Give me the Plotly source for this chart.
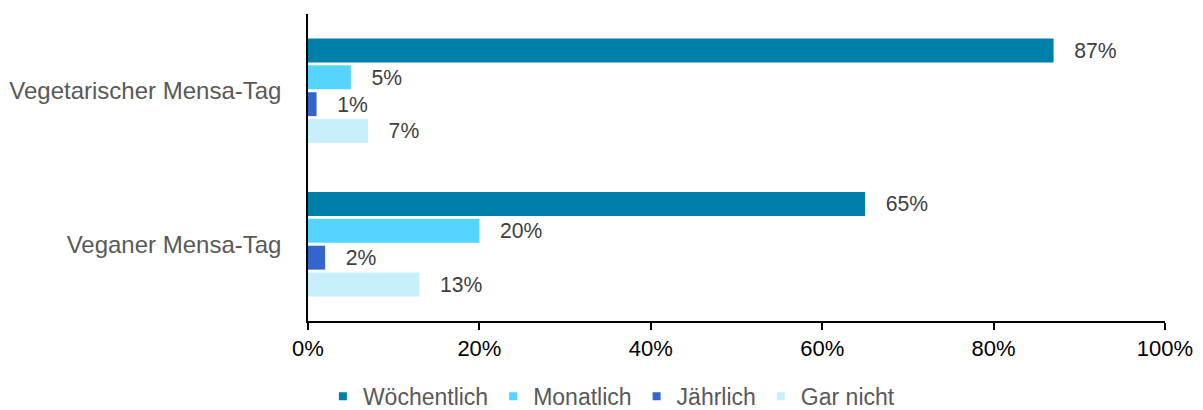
import plotly.graph_objects as go

categories = ["Vegetarischer Mensa-Tag", "Veganer Mensa-Tag"]
series_names = ["Wöchentlich", "Monatlich", "Jährlich", "Gar nicht"]
woechentlich = [87, 65]
monatlich = [5, 20]
jaehrlich = [1, 2]
gar_nicht = [7, 13]
values = [woechentlich, monatlich, jaehrlich, gar_nicht]
colors = ["#0080A8", "#55D4FF", "#3366CC", "#C8F0FC"]
x_ticks = [0, 20, 40, 60, 80, 100]

FONT = "Liberation Sans, Arial"

fig = go.Figure()
for name, vals, col in zip(series_names, values, colors):
    fig.add_trace(go.Bar(
        name=name, y=categories, x=vals, orientation="h",
        marker=dict(color=col, line=dict(width=0)),
        text=[f"   {v}%" for v in vals], textposition="outside",
        textfont=dict(family=FONT, size=23, color="#404040"),
        cliponaxis=False, showlegend=False,
    ))
# legend entries with small square markers
for name, col in zip(series_names, colors):
    fig.add_trace(go.Scatter(
        name=name, x=[None], y=[None], mode="markers",
        marker=dict(symbol="square", size=8, color=col),
        showlegend=True,
    ))

fig.update_layout(
    barmode="group", bargap=0.30, bargroupgap=0.11,
    width=1195, height=402,
    margin=dict(l=300, r=38, t=6, b=89, autoexpand=False),
    plot_bgcolor="white", paper_bgcolor="white",
    font=dict(family=FONT, size=24, color="#595959"),
    xaxis=dict(range=[0, 100], tickvals=x_ticks, ticktext=[f"{t}%" for t in x_ticks],
               showgrid=False, zeroline=False, showline=True, linecolor="black", linewidth=1.5,
               ticks="outside", ticklen=7, tickcolor="black", tickwidth=1.5,
               ticklabelstandoff=0, tickangle=0,
               tickfont=dict(family=FONT, color="black", size=22)),
    yaxis=dict(autorange="reversed", showgrid=False, showline=True, linecolor="black",
               linewidth=1.5, ticks="", ticklabelstandoff=20,
               tickfont=dict(family=FONT, color="#595959", size=24)),
    legend=dict(orientation="h", x=0.354, xanchor="center",
                y=-0.245, yanchor="middle",
                font=dict(family=FONT, size=23, color="#595959"), traceorder="normal",
                itemwidth=30),
)

fig.write_html("out.html")
